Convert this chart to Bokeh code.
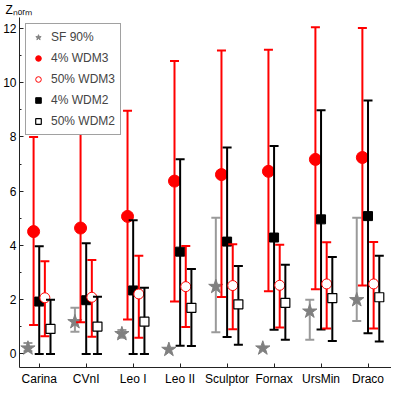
import math
from bokeh.plotting import figure
from bokeh.models import (FixedTicker, Range1d, Legend, LegendItem, Title,
                          ColumnDataSource)
from bokeh.embed import file_html
from bokeh.resources import INLINE

nan = float("nan")

categories = ["Carina", "CVnI", "Leo I", "Leo II", "Sculptor", "Fornax", "UrsMin", "Draco"]

sf90 = [0.21, 1.18, 0.74, 0.16, 2.48, 0.21, 1.57, 1.99]
sf90_lo = [0.10, 0.82, 0.60, nan, 0.80, nan, 0.52, 1.21]
sf90_hi = [0.40, 1.70, 0.88, nan, 5.02, nan, 2.00, 5.02]

wdm3_4 = [4.51, 4.64, 5.07, 6.37, 6.61, 6.73, 7.17, 7.24]
wdm3_4_lo = [1.07, 1.17, 1.27, 1.93, 2.10, 2.31, 2.38, 2.52]
wdm3_4_hi = [8.00, 8.19, 8.96, 10.80, 11.18, 11.21, 12.04, 12.01]

wdm2_4 = [1.93, 1.98, 2.34, 3.77, 4.14, 4.29, 4.96, 5.08]
wdm2_4_lo = [0.0, 0.0, 0.0, 0.30, 0.62, 0.89, 0.90, 0.76]
wdm2_4_hi = [3.97, 4.08, 4.93, 7.18, 7.61, 7.66, 8.98, 9.34]

wdm3_50 = [2.07, 2.09, 2.21, 2.48, 2.52, 2.53, 2.58, 2.58]
wdm3_50_lo = [0.65, 0.63, 0.60, 0.99, 0.91, 0.97, 0.94, 0.94]
wdm3_50_hi = [3.42, 3.46, 3.62, 3.98, 4.04, 4.02, 4.12, 4.13]

wdm2_50 = [0.92, 1.01, 1.19, 1.70, 1.83, 1.88, 2.06, 2.09]
wdm2_50_lo = [0.0, 0.0, 0.0, 0.29, 0.34, 0.52, 0.48, 0.46]
wdm2_50_hi = [2.00, 2.11, 2.44, 3.13, 3.24, 3.29, 3.57, 3.62]

FONT = "Liberation Sans"
pos = list(range(1, len(categories) + 1))

p = figure(width=391, height=388, output_backend="svg", toolbar_location=None,
           x_range=Range1d(0.58, 8.5), y_range=Range1d(-0.5, 12.4),
           min_border_left=0, min_border_right=0, min_border_top=2, min_border_bottom=0)
p.outline_line_color = None
p.xgrid.grid_line_color = None
p.ygrid.grid_line_color = None

p.title = Title(text="Zₙₒᵣₘ", align="left", offset=-14, standoff=1,
                text_font=FONT, text_font_size="12px", text_font_style="normal",
                text_color="black")

p.xaxis.ticker = FixedTicker(ticks=pos)
p.xaxis.major_label_overrides = {i: c for i, c in zip(pos, categories)}
p.yaxis.ticker = FixedTicker(ticks=[0, 2, 4, 6, 8, 10, 12],
                             minor_ticks=[1, 3, 5, 7, 9, 11])
for ax in (p.xaxis, p.yaxis):
    ax.axis_line_color = "#222222"
    ax.major_tick_line_color = "#222222"
    ax.minor_tick_line_color = "#222222"
    ax.major_tick_in = 4
    ax.major_tick_out = 0
    ax.minor_tick_in = 2
    ax.minor_tick_out = 0
    ax.major_label_text_font = FONT
    ax.major_label_text_font_size = "12px"
    ax.major_label_text_color = "black"
p.yaxis.major_label_standoff = 3
p.xaxis.major_label_standoff = 4


def series(vals, lo, hi, offset, bar_color, **mk):
    xs = [x + offset for x in pos]
    src = ColumnDataSource(dict(x=xs, y=vals, lo=lo, hi=hi))
    p.segment(x0="x", y0="lo", x1="x", y1="hi", source=src,
              line_color=bar_color, line_width=2)
    p.scatter(x="x", y="hi", source=src, marker="dash", size=9,
              line_color=bar_color, line_width=2)
    p.scatter(x="x", y="lo", source=src, marker="dash", size=9,
              line_color=bar_color, line_width=2)
    return p.scatter(x="x", y="y", source=src, **mk)


r_sf = series(sf90, sf90_lo, sf90_hi, -0.24, "#9a9a9a",
              marker="star", size=15, fill_color="#808080", line_color="#808080")
r_w34 = series(wdm3_4, wdm3_4_lo, wdm3_4_hi, -0.12, "#ff0000",
               marker="circle", size=12, fill_color="#ff0000", line_color="#ff0000")
r_w24 = series(wdm2_4, wdm2_4_lo, wdm2_4_hi, 0.0, "black",
               marker="square", size=9, fill_color="black", line_color="black")
r_w350 = series(wdm3_50, wdm3_50_lo, wdm3_50_hi, 0.12, "#ff0000",
                marker="circle", size=10, fill_color="white", line_color="#ff0000",
                line_width=1)
r_w250 = series(wdm2_50, wdm2_50_lo, wdm2_50_hi, 0.24, "black",
                marker="square", size=9, fill_color="white", line_color="black",
                line_width=1.2)

legend = Legend(items=[
    LegendItem(label="SF 90%", renderers=[r_sf]),
    LegendItem(label="4% WDM3", renderers=[r_w34]),
    LegendItem(label="50% WDM3", renderers=[r_w350]),
    LegendItem(label="4% WDM2", renderers=[r_w24]),
    LegendItem(label="50% WDM2", renderers=[r_w250]),
], location="top_left")
legend.margin = 6
legend.padding = 5
legend.spacing = 5
legend.glyph_width = 14
legend.glyph_height = 16
legend.label_height = 16
legend.label_standoff = 6
legend.label_text_font = FONT
legend.label_text_font_size = "12px"
legend.border_line_color = "#444444"
legend.border_line_width = 1
legend.background_fill_color = "white"
legend.background_fill_alpha = 1
p.add_layout(legend)

open("out.html", "w").write(file_html(p, INLINE))
